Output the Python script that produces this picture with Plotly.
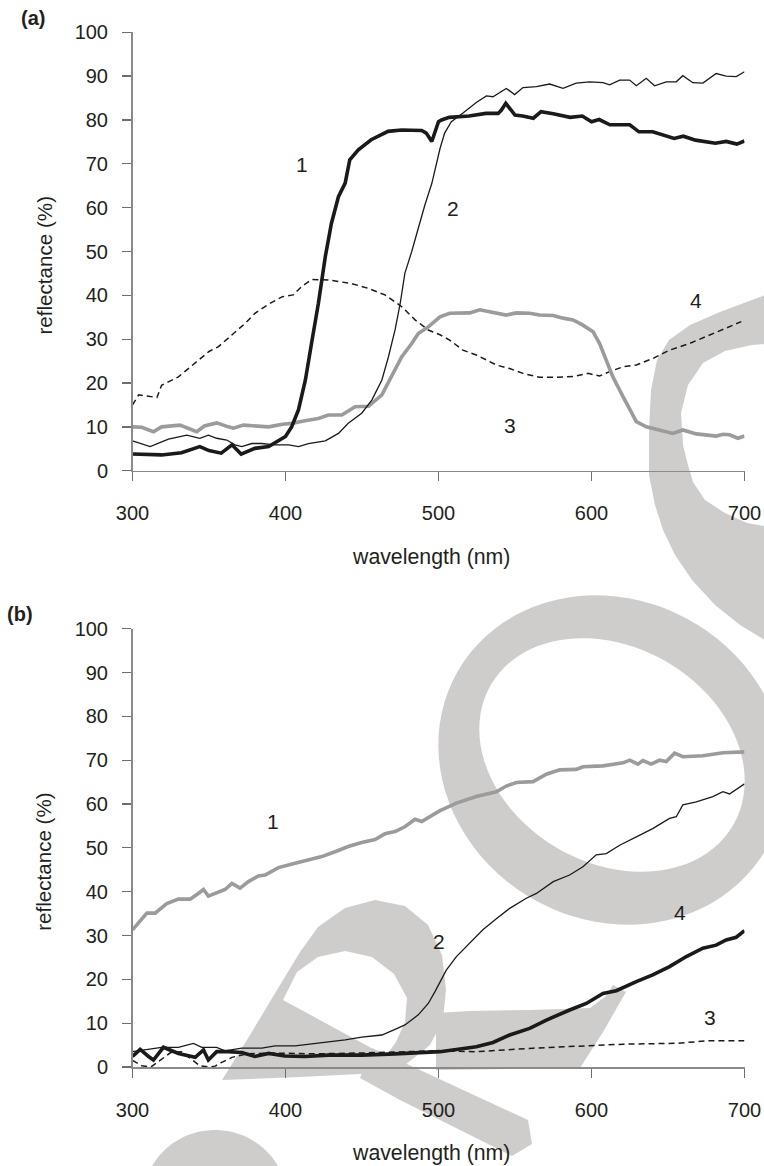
import math
import plotly.graph_objects as go

W, H = 764, 1166

# ---------------- data (wavelength nm, reflectance %) ----------------
# panel (a)
a1_x = [300, 310, 319, 332, 344, 350, 358, 365, 371, 380, 389, 400, 404, 408.5, 413, 417, 421.5, 426, 430, 434.6,
        439, 442, 447.6, 456, 467, 476, 489, 492, 495.6, 500, 502, 507, 520, 531, 539, 541, 544, 550, 555, 562,
        567, 575, 586, 594, 600, 605, 612, 625, 631, 640, 647, 654, 660, 668, 681, 688, 695, 700]
a1_y = [3.8, 3.8, 3.6, 4.1, 5.5, 4.6, 4.0, 5.9, 3.8, 5.1, 5.5, 7.8, 10, 13.9, 20.7, 29, 38.2, 48.8, 56.4, 62.5,
        65.6, 70.9, 73.2, 75.5, 77.4, 77.7, 77.6, 77.0, 75.1, 79.6, 80, 80.6, 80.9, 81.5, 81.5, 82.2, 83.8, 81.1, 80.9, 80.4,
        81.9, 81.4, 80.6, 80.9, 79.6, 80.1, 78.9, 78.9, 77.3, 77.3, 76.6, 75.8, 76.3, 75.4, 74.7, 75.1, 74.5, 75.2]

a2_x = [300, 311.5, 323.5, 335.5, 344, 349.6, 355, 361.6, 367, 371.4, 378, 384.5, 393, 402, 408.5, 415, 426, 434.6,
        441, 449.8, 456.4, 463, 467.3, 471.6, 475, 478, 482.5, 486.8, 491, 495.6, 498.8, 501, 504, 508.4, 516, 524.7,
        531.3, 535.6, 544.3, 549.8, 555.2, 564, 572.6, 581.4, 590, 598.8, 607.5, 611.8, 618.4, 624.9, 629.3, 635.8,
        641.2, 648.9, 655.4, 659.7, 666.2, 672.8, 681.5, 688, 694.6, 700]
a2_y = [6.8, 5.5, 7.2, 8.1, 7.4, 8.1, 7.4, 7.0, 5.9, 5.5, 6.2, 6.2, 5.9, 5.9, 5.5, 6.2, 6.8, 8.5,
        10.8, 13.1, 16.1, 20.7, 26, 32.1, 38.2, 45.0, 50.0, 55.5, 60.5, 65.5, 70.0, 73.5, 77.0, 79.6, 81.6, 84.0,
        85.5, 85.3, 87.2, 85.8, 87.4, 87.6, 88.2, 87.2, 88.4, 88.7, 88.5, 88.0, 89.1, 89.1, 87.8, 89.5,
        87.8, 88.7, 88.7, 90.1, 88.5, 88.4, 90.6, 90.0, 89.9, 91.0]

a3_x = [300, 306, 313.7, 319, 331, 336.6, 342, 347, 355, 362.7, 366, 372.5, 380, 389, 398, 404, 412.8, 421.5, 428, 436.8,
        445.5, 454.2, 463, 469.4, 476, 482.5, 486.8, 493.3, 501, 507.3, 520.4, 527, 533.4, 544.3, 550.9, 559.6, 566, 575,
        581.4, 588, 594.4, 601, 605.3, 609.7, 614, 620.6, 624.9, 629.3, 635.8, 646.7, 653.2, 659.7, 668.5, 681.5, 685.9,
        690.2, 695.7, 700]
a3_y = [10.0, 9.9, 8.9, 10.0, 10.4, 9.7, 8.9, 10.2, 10.9, 10.0, 9.7, 10.4, 10.2, 10.0, 10.6, 10.8, 11.4, 11.9, 12.7, 12.7,
        14.6, 14.7, 17.3, 21.4, 26.0, 29.0, 31.3, 32.8, 35.1, 35.9, 36.0, 36.7, 36.3, 35.5, 36.0, 35.9, 35.5, 35.4,
        34.8, 34.4, 33.2, 31.7, 29.0, 25.3, 21.4, 16.9, 13.9, 11.2, 10.0, 9.1, 8.5, 9.3, 8.4, 7.9, 8.3,
        8.2, 7.4, 7.9]

a4_x = [300, 304, 316, 319, 330, 341, 350, 356.2, 365, 373.6, 380, 389, 398, 405, 410.6, 417, 428, 443, 454, 465,
        476, 484.7, 493.3, 501, 507.3, 516, 524.7, 531.3, 538, 546.5, 555.2, 566, 577, 588, 597.7, 605.3, 611.8, 620.6,
        629.3, 640.1, 651, 664, 677.2, 688, 697.9]
a4_y = [15, 17.3, 16.7, 19.5, 21.4, 24.5, 27.2, 28.3, 31, 33.6, 35.9, 38.0, 39.7, 40.1, 42, 43.6, 43.5, 42.7, 41.6, 40.1,
        37.4, 34.4, 32.1, 31, 29.8, 27.5, 26.4, 25.2, 24.1, 23.3, 22.2, 21.3, 21.3, 21.5, 22.2, 21.6, 22.6, 23.7,
        24.1, 25.6, 27.5, 29, 31, 32.5, 34]

# panel (b)
b1_x = [300, 303.9, 309.4, 314.8, 322.4, 330, 337.7, 343, 346.4, 349.6, 356.2, 360.5, 365, 370.3, 375.8, 382.3, 386.7,
        395.4, 406.3, 417.2, 423.7, 432.4, 441, 449.8, 458.5, 465, 471.6, 478, 484.7, 489, 495.6, 501, 511.7, 524.7,
        537.8, 544.3, 550.9, 561.8, 570.5, 579.2, 590, 594.4, 607.5, 620.6, 625, 630.3, 633.6, 639, 644.5, 648.9,
        654.3, 659.7, 672.8, 685.9, 700]
b1_y = [31.3, 32.8, 35.1, 35.1, 37.3, 38.3, 38.3, 39.6, 40.5, 39.0, 40.0, 40.5, 41.9, 40.8, 42.3, 43.6, 43.8,
        45.5, 46.5, 47.4, 48.0, 49.1, 50.3, 51.2, 51.9, 53.2, 53.7, 54.8, 56.5, 56.0, 57.5, 58.5, 60.2, 61.7,
        62.8, 64.1, 64.9, 65.1, 66.8, 67.8, 67.9, 68.5, 68.7, 69.4, 70.0, 69.1, 69.9, 69.1, 70.0, 69.7,
        71.6, 70.8, 71.0, 71.7, 71.9]

b2_x = [300, 308.3, 319, 330, 339.8, 345.3, 355, 360.5, 371.4, 384.5, 393.2, 406.3, 425.9, 439, 449.8, 463, 471.6,
        478.1, 486.8, 493.3, 497.7, 501, 505.1, 511.7, 520.4, 529, 538, 546.5, 557.4, 564, 575, 585.7, 594.4, 603.1,
        609.7, 618.4, 629.3, 640, 651, 655.4, 659.7, 668.5, 679.3, 685.9, 690.2, 695.7, 700]
b2_y = [3.5, 3.9, 4.5, 4.5, 5.4, 4.5, 4.5, 3.7, 4.3, 4.3, 4.8, 4.8, 5.6, 6.2, 6.8, 7.3, 8.6,
        9.6, 11.9, 14.5, 17.2, 19.5, 22.1, 25.2, 28.2, 31.3, 33.9, 36.2, 38.5, 39.6, 42.3, 43.8, 45.7, 48.4,
        48.7, 50.6, 52.5, 54.4, 56.7, 57.1, 59.8, 60.5, 61.7, 62.8, 62.3, 63.6, 64.6]

b3_x = [300, 306, 312, 318, 325, 332, 338, 344, 350, 354, 358, 365, 375, 390, 420, 450, 498.6, 524.7, 561.8, 585.7,
        601, 620.6, 655.4, 677, 700]
b3_y = [1.5, 0.3, 0, 1.5, 3.3, 3.5, 2, 0.3, 0, 0.2, 1.0, 2.2, 3.0, 3.2, 3.0, 3.2, 3.7, 3.5, 4.3, 4.6,
        4.8, 5.2, 5.4, 6.0, 6.0]

b4_x = [300, 305, 310.5, 313.7, 320.2, 330, 341, 346.4, 349.6, 355, 362.7, 371.4, 380, 389, 399.7, 412.8, 428, 449.8,
        471.6, 501, 511.7, 524.7, 535.6, 546.5, 559.6, 570.5, 585.7, 596.6, 607.5, 616.2, 629.3, 640, 651, 662, 672.8,
        681.5, 688, 694.6, 700]
b4_y = [2.4, 4.0, 2.4, 1.6, 4.5, 3.1, 2.2, 3.9, 1.6, 3.5, 3.5, 3.3, 2.4, 3.1, 2.5, 2.4, 2.7, 2.7,
        3.0, 3.5, 4.0, 4.6, 5.6, 7.3, 8.8, 10.7, 13.0, 14.5, 16.8, 17.4, 19.5, 21.0, 22.9, 25.2, 27.1,
        27.8, 29.0, 29.6, 31.1]

x_ticks = [300, 400, 500, 600, 700]
y_ticks = [0, 10, 20, 30, 40, 50, 60, 70, 80, 90, 100]
x_title = "wavelength (nm)"
y_title = "reflectance (%)"

# curve number labels: (text, wavelength, reflectance)
labels_a = [("1", 410.6, 69.9), ("2", 509.5, 59.7), ("3", 546.5, 10.4), ("4", 668, 38.9)]
labels_b = [("1", 391.5, 56.1), ("2", 500, 28.6), ("3", 677.6, 11.2), ("4", 658, 35.3)]

# ---------------- styling ----------------
FONT = "Liberation Sans, Arial, Helvetica, sans-serif"
TXT = "#231f20"
BLACK = "#1a1a1a"
GREY = "#9b9b9b"
AXIS = "#8a8a8a"
WM = "#cfcccc"

# plot-area pixel boxes
PX_L, PX_R = 132.5, 744.5
A_TOP, A_BOT = 32.3, 470.7
B_TOP, B_BOT = 628.7, 1067.0


def px(x):
    return x / W


def py(y):
    return 1 - y / H


fig = go.Figure()

thick = dict(color=BLACK, width=3.6)
thin = dict(color=BLACK, width=1.3)
grey = dict(color=GREY, width=3.6)
dashed = dict(color=BLACK, width=1.5, dash="6px,4px")

for xs, ys, ln in [(a4_x, a4_y, dashed), (a3_x, a3_y, grey), (a2_x, a2_y, thin), (a1_x, a1_y, thick)]:
    fig.add_trace(go.Scatter(x=xs, y=ys, mode="lines", line=ln, xaxis="x", yaxis="y",
                             showlegend=False, hoverinfo="skip"))
for xs, ys, ln in [(b3_x, b3_y, dashed), (b1_x, b1_y, grey), (b2_x, b2_y, thin), (b4_x, b4_y, thick)]:
    fig.add_trace(go.Scatter(x=xs, y=ys, mode="lines", line=ln, xaxis="x2", yaxis="y2",
                             showlegend=False, hoverinfo="skip"))

axis_common = dict(showline=True, linecolor=AXIS, linewidth=1.5, ticks="outside", ticklen=9,
                   tickwidth=1.3, tickcolor="#6e6e6e", showgrid=False, zeroline=False, automargin=False,
                   tickfont=dict(family=FONT, size=20, color=TXT))

xdom = [px(PX_L), px(PX_R)]
fig.update_layout(
    width=W, height=H,
    margin=dict(l=0, r=0, t=0, b=0, pad=0, autoexpand=False),
    paper_bgcolor="white", plot_bgcolor="rgba(0,0,0,0)",
    xaxis=dict(domain=xdom, range=[300, 700], tickvals=x_ticks, anchor="y",
               ticklabelstandoff=15, **axis_common),
    yaxis=dict(domain=[py(A_BOT), py(A_TOP)], range=[0, 100], tickvals=y_ticks, anchor="x",
               ticklabelstandoff=10, **axis_common),
    xaxis2=dict(domain=xdom, range=[300, 700], tickvals=x_ticks, anchor="y2",
                ticklabelstandoff=15, **axis_common),
    yaxis2=dict(domain=[py(B_BOT), py(B_TOP)], range=[0, 100], tickvals=y_ticks, anchor="x2",
                ticklabelstandoff=10, **axis_common),
)

ann = []
tfx = dict(family=FONT, size=21.3, color=TXT)
tfy = dict(family=FONT, size=20.6, color=TXT)
tf = dict(family=FONT, size=21, color=TXT)
for top, bot, lab, lab_xy in [(A_TOP, A_BOT, "(a)", (33, 18)), (B_TOP, B_BOT, "(b)", (20, 614))]:
    ann.append(dict(text=x_title, xref="paper", yref="paper", x=px(430.5), y=py(bot + 86),
                    showarrow=False, font=tfx, xanchor="center", yanchor="middle"))
    ann.append(dict(text=y_title, xref="paper", yref="paper", x=px(44), y=py((top + bot) / 2 + 14),
                    showarrow=False, font=tfy, textangle=-90, xanchor="center", yanchor="middle"))
    ann.append(dict(text="<b>%s</b>" % lab, xref="paper", yref="paper", x=px(lab_xy[0]), y=py(lab_xy[1]),
                    showarrow=False, font=dict(family=FONT, size=20, color=TXT),
                    xanchor="center", yanchor="middle"))
for t, xv, yv in labels_a:
    ann.append(dict(text=t, x=xv, y=yv, xref="x", yref="y", showarrow=False, font=tf))
for t, xv, yv in labels_b:
    ann.append(dict(text=t, x=xv, y=yv, xref="x2", yref="y2", showarrow=False, font=tf))
fig.update_layout(annotations=ann)


# ---------------- watermark (decorative grey letter shapes, pixel geometry) ----------------
def ellipse_pts(cx, cy, a, b, ang, n=90):
    t = math.radians(ang)
    pts = []
    for i in range(n):
        u = 2 * math.pi * i / n
        x0, y0 = a * math.cos(u), b * math.sin(u)
        pts.append((cx + x0 * math.cos(t) - y0 * math.sin(t), cy + x0 * math.sin(t) + y0 * math.cos(t)))
    return pts


def poly_path(pts):
    return "M " + " L ".join("%.5f,%.5f" % (px(x), py(y)) for x, y in pts) + " Z"


# crescent of the letter in panel (a), right side
crescent_a = [(790, 286), (752, 300), (720, 312), (690, 325), (669, 340), (657, 360), (651, 390), (649, 430),
              (649, 475), (655, 505), (663, 530), (675, 555), (692, 580), (715, 605), (740, 625), (790, 655),
              (790, 530), (770, 527), (747, 523), (725, 513), (705, 500), (693, 482), (688, 465), (683, 445),
              (681, 413), (688, 385), (703, 363), (725, 351), (752, 345), (790, 342)]
# R-like letter in panel (b), lower left
r_outer = [(222, 1080), (250, 1035), (280, 985), (300, 952), (318, 927), (345, 908), (375, 900), (405, 906),
           (428, 925), (442, 955), (446, 990), (443, 1020), (430, 1045), (405, 1065), (380, 1073), (300, 1077)]
r_hole = [(283, 1000), (297, 972), (318, 957), (345, 951), (372, 957), (394, 974), (407, 998), (405, 1022),
          (396, 1042), (386, 1056)]
r_stem = [(372, 1048), (420, 1070), (528, 1120), (532, 1144), (512, 1156), (400, 1100), (360, 1078)]
r_leg = [(436, 1013), (470, 1011), (530, 1010), (590, 1008), (606, 996), (613, 985), (626, 992), (603, 1032),
         (580, 1068), (436, 1070)]

shapes = []
wm_paths = [
    (poly_path(crescent_a), "evenodd"),
    (poly_path(ellipse_pts(612, 760, 178, 160, 30)) + " " + poly_path(ellipse_pts(612, 755, 140, 108, 30)), "evenodd"),
    (poly_path(r_outer) + " " + poly_path(r_hole), "evenodd"),
    (poly_path(r_stem), "nonzero"),
    (poly_path(r_leg), "nonzero"),
    (poly_path(ellipse_pts(215, 1200, 72, 70, 0)), "nonzero"),
]
for p, rule in wm_paths:
    shapes.append(dict(type="path", path=p, xref="paper", yref="paper", fillcolor=WM,
                       line=dict(width=0), layer="below", fillrule=rule))
fig.update_layout(shapes=shapes)

fig.write_html("out.html",
               config={"displayModeBar": False, "staticPlot": True},
               post_script="document.body.style.margin='0';document.body.style.padding='0';"
                           "document.body.style.overflow='hidden';")
